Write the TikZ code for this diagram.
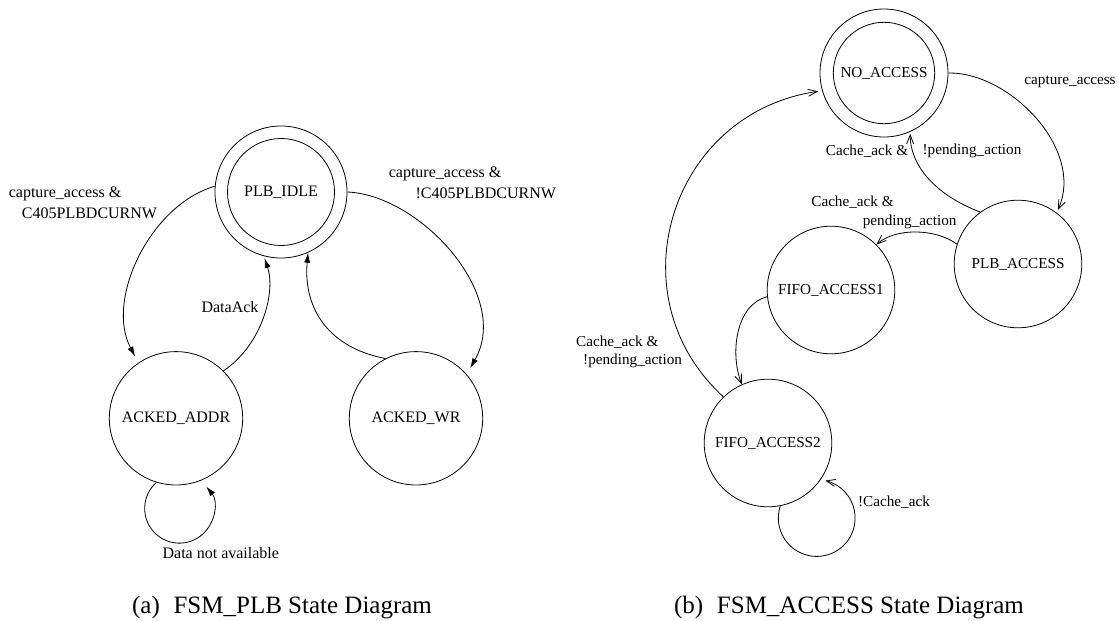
\documentclass[tikz,border=0pt]{standalone}
\usepackage{fontspec}
\setmainfont{Liberation Serif}
\usetikzlibrary{arrows.meta}
\begin{document}
\begin{tikzpicture}[x=1pt,y=-1pt, line width=0.8pt,
  every node/.style={inner sep=0pt},
  lab/.style={font=\fontsize{16}{18}\selectfont},
  labr/.style={font=\fontsize{15.2}{17}\selectfont},
  capt/.style={font=\fontsize{25}{28}\selectfont},
  stateL/.style={circle, draw, minimum size=133.4pt, font=\fontsize{16}{18}\selectfont},
  stateR/.style={circle, draw, minimum size=127.6pt, font=\fontsize{15.2}{17}\selectfont},
  ring/.style={path picture={\draw (path picture bounding box.center) circle[radius=#1];}},
  solidtip/.style={-{Latex[length=10pt,width=6pt]}},
  opentip/.style={-{Straight Barb[length=9pt,width=7pt]}},
]
\useasboundingbox (0,0) rectangle (1119,621);

% ---- FSM_PLB ----
\node[stateL, minimum size=132pt, ring=53.5pt] (idle) at (281,192) {PLB\_IDLE};
\node[stateL] (addr) at (176,418.3) {ACKED\_ADDR};
\node[stateL] (wr) at (416,418.3) {ACKED\_WR};

\draw[solidtip, shorten >=7pt] (idle.175) .. controls (150,205) and (105,300) .. (addr.124);
\draw[solidtip, shorten >=2pt] (addr.45) .. controls (262,345) and (276,292) .. (idle.255);
\draw[solidtip] (wr.117) .. controls (330,348) and (303,310) .. (idle.294);
\draw[solidtip, shorten >=7pt] (idle.0) .. controls (420,195) and (512,295) .. (wr.41);
\draw[solidtip] (addr.253) arc[start angle=131.5, end angle=399.2, radius=34.7pt];

\node[lab] (l1a) at (65,194) {capture\_access \&};
\node[lab] (l1b) at (89.5,213.3) {C405PLBDCURNW};
\node[lab] (l2) at (230,306.7) {DataAck};
\node[lab] (l4a) at (445,174.3) {capture\_access \&};
\node[lab] (l4b) at (485.8,193.3) {!C405PLBDCURNW};
\node[lab] (l5) at (220.8,553.3) {Data not available};

\node[capt] (capa) at (282,607.7) {(a)\hspace{0.55em}FSM\_PLB State Diagram};

% ---- FSM_ACCESS ----
\node[stateR, minimum size=128pt, ring=50.7pt] (noacc) at (884,73) {NO\_ACCESS};
\node[stateR] (plb) at (1018,264) {PLB\_ACCESS};
\node[stateR] (fifoa) at (831,290) {FIFO\_ACCESS1};
\node[stateR] (fifob) at (768,443) {FIFO\_ACCESS2};

\draw[opentip, shorten >=3pt] (noacc.0) .. controls (1010,72) and (1085,150) .. (plb.53);
\draw[opentip, shorten >=2pt] (plb.126) .. controls (935,195) and (910,165) .. (noacc.294);
\draw[opentip] (plb.162) .. controls (935,228) and (895,228) .. (fifoa.45);
\draw[opentip] (fifoa.186) .. controls (735,305) and (730,355) .. (fifob.114);
\draw[opentip, shorten >=4pt] (fifob.134) .. controls (613,296) and (670,113) .. (noacc.196);
\draw[opentip] (fifob.281) arc[start angle=161.8, end angle=437, radius=38.4pt];

\node[labr] (r1) at (1070,81.7) {capture\_access};
\node[labr] (r2a) at (867,151) {Cache\_ack \&};
\node[labr] (r2b) at (972,151) {!pending\_action};
\node[labr] (r3a) at (852.5,202.7) {Cache\_ack \&};
\node[labr] (r3b) at (909.7,221.7) {pending\_action};
\node[labr] (r4a) at (617.3,342.7) {Cache\_ack \&};
\node[labr] (r4b) at (632.6,361) {!pending\_action};
\node[labr] (r5) at (894,502.3) {!Cache\_ack};

\node[capt] (capb) at (849,607.7) {(b)\hspace{0.55em}FSM\_ACCESS State Diagram};
\end{tikzpicture}
\end{document}
